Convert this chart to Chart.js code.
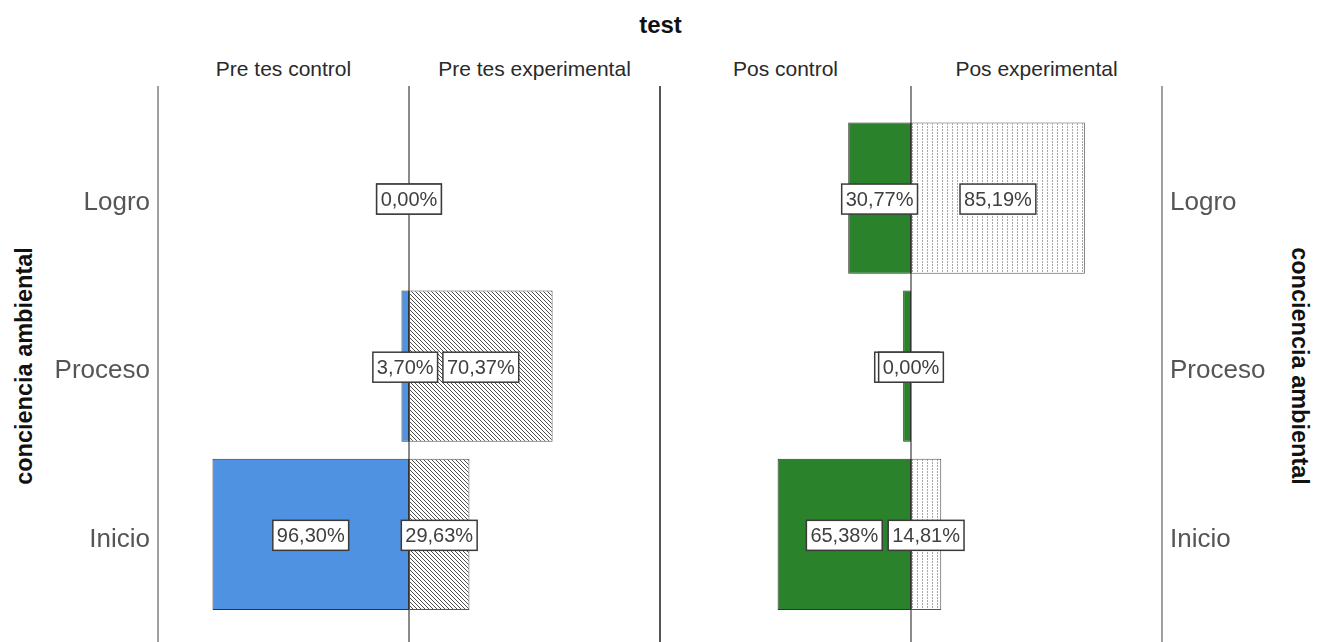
<!DOCTYPE html>
<html>
<head>
<meta charset="utf-8">
<script src="https://cdn.jsdelivr.net/npm/chart.js@4.4.1/dist/chart.umd.min.js"></script>
<style>
  html, body { margin: 0; padding: 0; background: #fff; }
  body { width: 1321px; height: 642px; position: relative; overflow: hidden; font-family: "Liberation Sans", Arial, sans-serif; }
  .title { position: absolute; left: 0; width: 1321px; top: 11px; text-align: center; font-weight: bold; font-size: 24px; color: #111; }
  .sub { position: absolute; top: 57px; width: 251px; text-align: center; font-size: 21px; color: #2a2a2a; }
  .ytitle { position: absolute; font-weight: bold; font-size: 23.5px; color: #111; white-space: nowrap; width: 300px; text-align: center; height: 28px; line-height: 28px; }
  .wrap { position: absolute; top: 0; height: 642px; }
</style>
</head>
<body>
<div class="title">test</div>
<div class="sub" style="left:158px">Pre tes control</div>
<div class="sub" style="left:409px">Pre tes experimental</div>
<div class="sub" style="left:660px">Pos control</div>
<div class="sub" style="left:911px">Pos experimental</div>
<div class="ytitle" style="left:-126px; top:352px; transform: rotate(-90deg);">conciencia ambiental</div>
<div class="ytitle" style="left:1150px; top:352px; transform: rotate(90deg);">conciencia ambiental</div>
<div class="wrap" style="left:0; width:662px"><canvas id="pre"></canvas></div>
<div class="wrap" style="left:660px; width:661px"><canvas id="pos"></canvas></div>
<script>
const categories = ["Logro", "Proceso", "Inicio"];
const preControl      = [0, 3.70, 96.30];
const preExperimental = [0, 70.37, 29.63];
const posControl      = [30.77, 3.85, 65.38];
const posExperimental = [85.19, 0, 14.81];

const fmtPct = (v) => v.toFixed(2).replace(".", ",") + "%";

function hatch() {
  const c = document.createElement("canvas");
  c.width = 4; c.height = 4;
  const g = c.getContext("2d");
  g.fillStyle = "#fff"; g.fillRect(0, 0, 4, 4);
  g.strokeStyle = "#505050"; g.lineWidth = 1;
  [-4, 0, 4].forEach((o) => { g.beginPath(); g.moveTo(o - 1, -1); g.lineTo(o + 5, 5); g.stroke(); });
  return g.createPattern(c, "repeat");
}
function dots() {
  const c = document.createElement("canvas");
  c.width = 5; c.height = 3;
  const g = c.getContext("2d");
  g.fillStyle = "#fff"; g.fillRect(0, 0, 5, 3);
  g.fillStyle = "#a8a8a8"; g.fillRect(2, 0, 1, 2);
  return g.createPattern(c, "repeat");
}

// vertical panel lines, drawn under the bars
const panelLines = {
  id: "panelLines",
  beforeDatasetsDraw(chart, args, opts) {
    const { ctx, chartArea: a, scales } = chart;
    const line = (x, col) => {
      ctx.save(); ctx.strokeStyle = col; ctx.lineWidth = 2;
      ctx.beginPath(); ctx.moveTo(x, 86); ctx.lineTo(x, chart.height); ctx.stroke(); ctx.restore();
    };
    if (opts.left) line(a.left, "#a0a0a0");
    line(Math.round(scales.x.getPixelForValue(0)), "#8a8a8a");
    line(a.right, opts.rightColor);
  },
};

// boxed value labels, centred on the half-bar
const boxLabels = {
  id: "boxLabels",
  afterDatasetsDraw(chart) {
    const ctx = chart.ctx, xs = chart.scales.x;
    ctx.save();
    ctx.font = "20px 'Liberation Sans', Arial, sans-serif";
    ctx.textAlign = "center"; ctx.textBaseline = "middle";
    chart.data.datasets.forEach((ds, di) => {
      chart.getDatasetMeta(di).data.forEach((bar, i) => {
        const txt = fmtPct(ds.raw[i]);
        const cx = xs.getPixelForValue(ds.data[i] / 2), cy = bar.y + 1;
        const w = ctx.measureText(txt).width + 8, h = 30;
        ctx.fillStyle = "#fff"; ctx.fillRect(cx - w / 2, cy - h / 2, w, h);
        ctx.strokeStyle = "#3a3a3a"; ctx.lineWidth = 1.5;
        ctx.strokeRect(cx - w / 2, cy - h / 2, w, h);
        ctx.fillStyle = "#404040"; ctx.fillText(txt, cx, cy + 1);
      });
    });
    ctx.restore();
  },
};

function makePanel(id, ctrl, expr, ctrlFill, side) {
  const isLeft = side === "left";
  return new Chart(document.getElementById(id), {
    type: "bar",
    data: {
      labels: categories,
      datasets: [
        { raw: ctrl, data: ctrl.map((v) => -v), backgroundColor: ctrlFill, borderColor: "#333", borderWidth: 1, borderSkipped: false },
        { raw: expr, data: expr, backgroundColor: isLeft ? hatch() : dots(), borderColor: "#555", borderWidth: 1, borderSkipped: false },
      ],
    },
    options: {
      indexAxis: "y", responsive: true, maintainAspectRatio: false, animation: false,
      categoryPercentage: 0.9, barPercentage: 1.0,
      layout: { padding: { top: 114, bottom: 21, left: 0, right: isLeft ? 2 : 0 } },
      plugins: { legend: { display: false }, tooltip: { enabled: false }, panelLines: { left: isLeft, rightColor: isLeft ? "#555" : "#a0a0a0" } },
      scales: {
        x: { type: "linear", min: -123, max: 123, stacked: true, display: false },
        y: {
          stacked: true, position: isLeft ? "left" : "right",
          grid: { display: false, drawTicks: false }, border: { display: false },
          ticks: { padding: 8, labelOffset: 5, color: "#555", font: { family: "'Liberation Sans', Arial, sans-serif", size: 26 } },
          afterFit: (s) => { s.width = isLeft ? 158 : 159; },
        },
      },
    },
    plugins: [panelLines, boxLabels],
  });
}

makePanel("pre", preControl, preExperimental, "#5092e2", "left");
makePanel("pos", posControl, posExperimental, "#2a822a", "right");
</script>
</body>
</html>
